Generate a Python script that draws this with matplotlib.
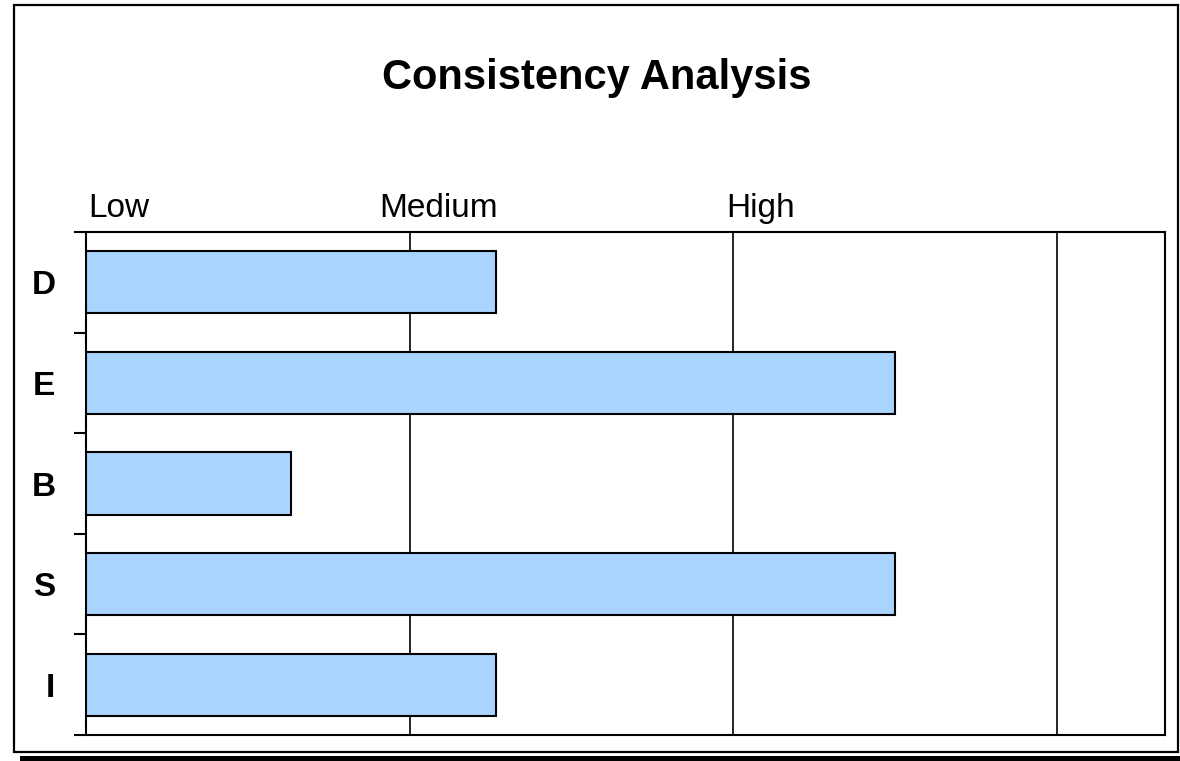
import matplotlib.pyplot as plt
from matplotlib.patches import Rectangle

plt.rcParams['font.family'] = ['Liberation Sans Narrow', 'Liberation Sans', 'DejaVu Sans']

categories = ['D', 'E', 'B', 'S', 'I']
values = [38, 75, 19, 75, 38]
level_labels = ['Low', 'Medium', 'High']
level_pos = [0.2, 27.2, 59.3]
grid_pos = [30, 60, 90]

fig = plt.figure(figsize=(11.8, 7.61), dpi=100)

# marco exterior con sombra
fig.patches.append(Rectangle((20 / 1180, 0), 1160 / 1180, 5 / 761, transform=fig.transFigure,
                             facecolor='black', edgecolor='none', zorder=0))
fig.patches.append(Rectangle((14 / 1180, 9 / 761), 1164 / 1180, 747 / 761, transform=fig.transFigure,
                             facecolor='white', edgecolor='black', linewidth=1.6, zorder=1))

ax = fig.add_axes([86 / 1180, 26 / 761, 1079 / 1180, 503 / 761])
ax.set_zorder(2)

y = [i + 0.5 for i in range(len(categories))]
ax.barh(y, values, height=0.62, color='#a8d4ff', edgecolor='black', linewidth=1.5, zorder=3)

for g in grid_pos:
    ax.axvline(g, color='black', linewidth=1.2, zorder=2)

ax.set_xlim(0, 100)
ax.set_ylim(len(categories), 0)

ax.set_xticks([])
ax.set_yticks(range(len(categories) + 1))
ax.set_yticklabels([])
ax.tick_params(axis='y', direction='out', length=9, width=1.5, color='black')
ax.set_yticks(y, minor=True)
ax.set_yticklabels(categories, minor=True, fontsize=24, fontweight='bold')
ax.tick_params(axis='y', which='minor', length=0, pad=22)

for s in ax.spines.values():
    s.set_linewidth(1.5)
    s.set_color('black')

for lab, p in zip(level_labels, level_pos):
    ax.text(p, -0.15, lab, ha='left', va='baseline', fontsize=24)

fig.text(597 / 1180, 1 - 78 / 761, 'Consistency Analysis', ha='center', va='center',
         fontsize=30, fontweight='bold')

plt.savefig('out.png', dpi=100)
